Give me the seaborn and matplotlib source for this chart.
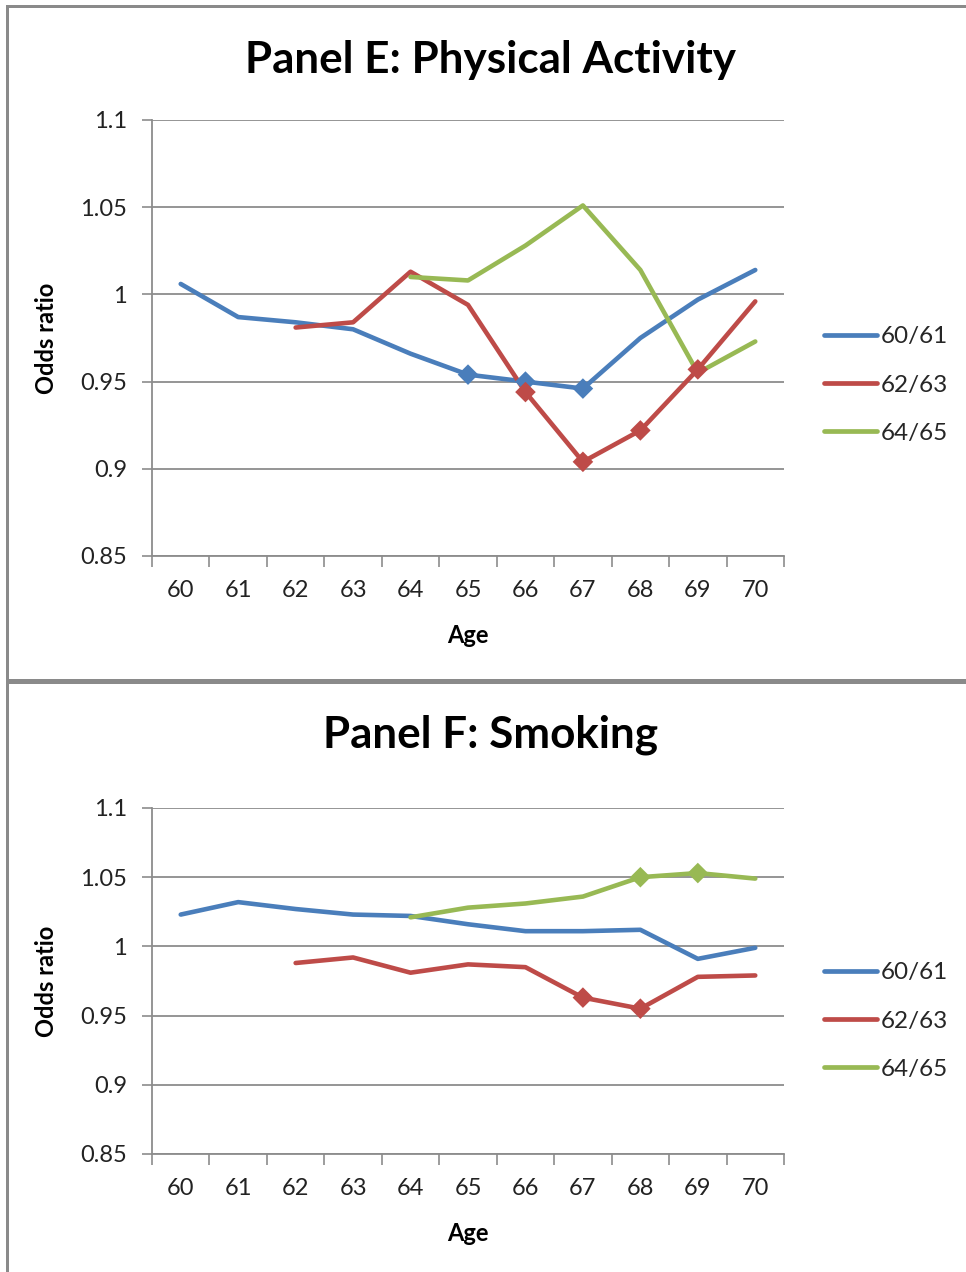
import numpy as np
import pandas as pd
import matplotlib
matplotlib.use("Agg")
import matplotlib.pyplot as plt
from matplotlib.lines import Line2D
from matplotlib.patches import Rectangle
import seaborn as sns

sns.set_theme(style="white")
plt.rcParams["font.family"] = ["Lato", "DejaVu Sans"]

# ---- data ----
ages = [60, 61, 62, 63, 64, 65, 66, 67, 68, 69, 70]
cohorts = ["60/61", "62/63", "64/65"]
y_ticks = [0.85, 0.9, 0.95, 1.0, 1.05, 1.1]
y_tick_labels = ["0.85", "0.9", "0.95", "1", "1.05", "1.1"]

nan = np.nan
# Panel E: physical activity
pa_6061 = [1.006, 0.987, 0.984, 0.980, 0.966, 0.954, 0.950, 0.946, 0.975, 0.997, 1.014]
pa_6263 = [nan, nan, 0.981, 0.984, 1.013, 0.994, 0.944, 0.904, 0.922, 0.957, 0.996]
pa_6465 = [nan, nan, nan, nan, 1.010, 1.008, 1.028, 1.051, 1.014, 0.955, 0.973]
# ages flagged with a diamond marker
pa_6061_flag = [65, 66, 67]
pa_6263_flag = [66, 67, 68, 69]
pa_6465_flag = []

# Panel F: smoking
sm_6061 = [1.023, 1.032, 1.027, 1.023, 1.022, 1.016, 1.011, 1.011, 1.012, 0.991, 0.999]
sm_6263 = [nan, nan, 0.988, 0.992, 0.981, 0.987, 0.985, 0.963, 0.955, 0.978, 0.979]
sm_6465 = [nan, nan, nan, nan, 1.021, 1.028, 1.031, 1.036, 1.050, 1.053, 1.049]
sm_6061_flag = []
sm_6263_flag = [67, 68]
sm_6465_flag = [68, 69]

colors = {"60/61": "#4A7EBB", "62/63": "#BE4B48", "64/65": "#98B954"}
grid_gray = "#8C8C8C"


def long_frame(series, flags):
    rows = []
    for name, vals, flg in zip(cohorts, series, flags):
        for a, v in zip(ages, vals):
            if not np.isnan(v):
                rows.append({"Age": a, "OR": v, "Cohort": name, "flag": a in flg})
    return pd.DataFrame(rows)


def draw_panel(ax, df, title, title_y, legend_y):
    sns.lineplot(data=df, x="Age", y="OR", hue="Cohort", palette=colors,
                 hue_order=cohorts, linewidth=3.3, ax=ax, legend=False,
                 estimator=None, sort=True)
    sig = df[df["flag"]]
    if len(sig):
        sns.scatterplot(data=sig, x="Age", y="OR", hue="Cohort", palette=colors,
                        hue_order=cohorts, marker="D", s=110, linewidth=0,
                        ax=ax, legend=False, zorder=5)
    ax.set_xlim(ages[0] - 0.5, ages[-1] + 0.5)
    ax.set_ylim(y_ticks[0], y_ticks[-1])
    ax.set_yticks(y_ticks)
    ax.set_yticklabels(y_tick_labels)
    ax.set_xticks(ages)
    ax.set_xticklabels([str(a) for a in ages])
    ax.set_xticks([a - 0.5 for a in ages] + [ages[-1] + 0.5], minor=True)
    ax.tick_params(axis="x", which="major", length=0, pad=17, labelsize=17,
                   labelcolor="#222222")
    ax.tick_params(axis="x", which="minor", length=8, width=1.2,
                   color=grid_gray, direction="out", bottom=True)
    ax.tick_params(axis="y", which="major", length=7, width=1.2,
                   color=grid_gray, direction="out", left=True, pad=11,
                   labelsize=17, labelcolor="#222222")
    ax.yaxis.grid(True, color=grid_gray, linewidth=1.3)
    ax.xaxis.grid(False)
    ax.set_axisbelow(True)
    for side in ("top", "right"):
        ax.spines[side].set_visible(False)
    for side in ("left", "bottom"):
        ax.spines[side].set_color(grid_gray)
        ax.spines[side].set_linewidth(1.3)
    ax.set_xlabel("Age", fontsize=17, fontweight="bold", color="black")
    ax.set_ylabel("Odds ratio", fontsize=17, fontweight="bold", color="black")
    ax.yaxis.set_label_coords(-0.149, 0.5)
    fig.text(0.508, title_y, title, ha="center", va="center",
             fontsize=31.7, fontweight="bold", color="black")
    handles = [Line2D([], [], color=colors[c], linewidth=3.4) for c in cohorts]
    fig.legend(handles, cohorts, loc="center left",
               bbox_to_anchor=(0.853, legend_y), frameon=False, fontsize=17.5,
               handlelength=2.2, handletextpad=0.12, labelspacing=1.12,
               borderpad=0, borderaxespad=0)


fig = plt.figure(figsize=(9.66, 12.72), dpi=100)
ax_e = fig.add_axes([152 / 966, 1 - 556 / 1272, 632 / 966, 436 / 1272])
ax_f = fig.add_axes([152 / 966, 1 - 1154 / 1272, 632 / 966, 346 / 1272])

df_e = long_frame([pa_6061, pa_6263, pa_6465], [pa_6061_flag, pa_6263_flag, pa_6465_flag])
df_f = long_frame([sm_6061, sm_6263, sm_6465], [sm_6061_flag, sm_6263_flag, sm_6465_flag])

draw_panel(ax_e, df_e, "Panel E: Physical Activity", 1 - 60 / 1272, 1 - 385 / 1272)
draw_panel(ax_f, df_f, "Panel F: Smoking", 1 - 735 / 1272, 1 - 1021 / 1272)
ax_e.xaxis.set_label_coords(0.5, -0.155)
ax_f.xaxis.set_label_coords(0.5, -0.197)

# chart frames
frame = "#8A8A8A"
W, H = 966, 1272
for (x0, y0, w, h) in [(6, 5, 970, 3), (6, 5, 2.5, 676), (6, 679, 970, 4.5), (6, 679, 2.5, 600)]:
    fig.add_artist(Rectangle((x0 / W, 1 - (y0 + h) / H), w / W, h / H,
                             transform=fig.transFigure, facecolor=frame,
                             edgecolor="none"))

fig.savefig("out.png", dpi=100, facecolor="white")
